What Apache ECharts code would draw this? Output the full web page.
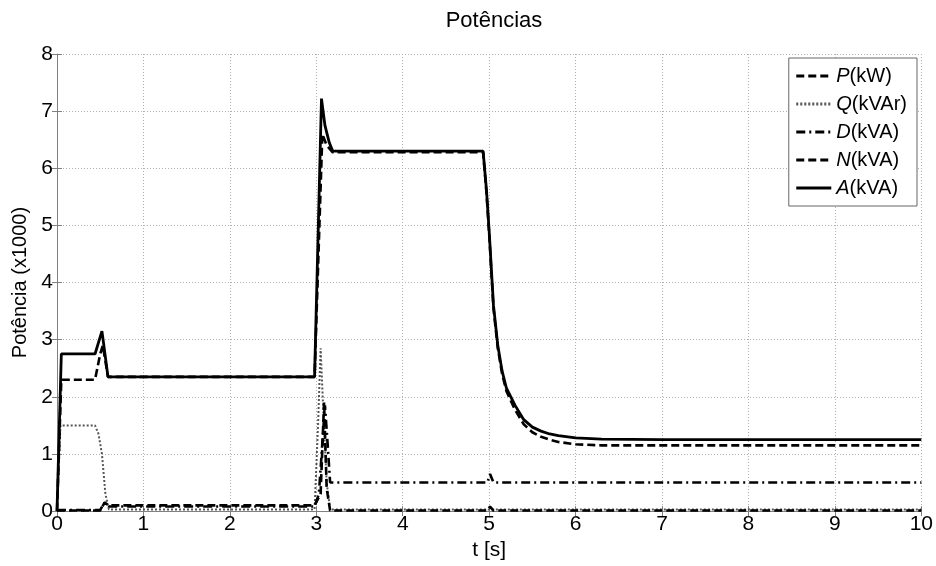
<!DOCTYPE html>
<html><head><meta charset="utf-8">
<script src="https://cdn.jsdelivr.net/npm/echarts@6/dist/echarts.min.js"></script>
<style>html,body{margin:0;padding:0;background:#fff}#c{width:936px;height:566px}</style>
</head><body><div id="c"></div>
<script>
var seriesNames = ['P(kW)', 'Q(kVAr)', 'D(kVA)', 'N(kVA)', 'A(kVA)'];
var xTicks = [0,1,2,3,4,5,6,7,8,9,10];
var yTicks = [0,1,2,3,4,5,6,7,8];

var tP = [0, 0.05, 0.44, 0.5, 0.53, 0.59, 2.98, 3.07, 3.12, 3.19, 4.93, 4.97, 5.0, 5.05, 5.1, 5.15, 5.2, 5.3, 5.4, 5.5, 5.6, 5.7, 5.8, 6.0, 6.3, 7.0, 10];
var vP = [0, 2.3, 2.3, 2.75, 2.9, 2.35, 2.35, 6.6, 6.4, 6.28, 6.28, 5.55, 4.85, 3.55, 2.85, 2.4, 2.1, 1.77, 1.52, 1.38, 1.3, 1.25, 1.21, 1.17, 1.15, 1.15, 1.15];

var tQ = [0, 0.04, 0.44, 0.48, 0.52, 0.56, 0.6, 2.98, 3.02, 3.05, 3.08, 3.12, 3.16, 10];
var vQ = [0, 1.5, 1.5, 1.35, 1.0, 0.3, 0.03, 0.03, 1.5, 2.85, 1.8, 0.5, 0.03, 0.03];

var tD = [0, 0.5, 0.55, 0.6, 2.98, 3.03, 3.1, 3.13, 3.16, 4.98, 5.01, 5.05, 10];
var vD = [0.02, 0.02, 0.15, 0.08, 0.08, 0.3, 1.85, 1.2, 0.5, 0.5, 0.65, 0.5, 0.5];

var tN = [0, 0.5, 0.55, 0.6, 2.98, 3.05, 3.09, 3.12, 3.16, 4.98, 5.01, 5.05, 10];
var vN = [0.01, 0.01, 0.15, 0.1, 0.1, 0.3, 1.9, 0.4, 0.01, 0.01, 0.08, 0.01, 0.01];

var tA = [0, 0.05, 0.44, 0.52, 0.59, 2.98, 3.06, 3.1, 3.15, 3.19, 4.93, 4.97, 5.0, 5.05, 5.1, 5.15, 5.2, 5.3, 5.4, 5.5, 5.6, 5.7, 5.8, 6.0, 6.3, 7.0, 10];
var vA = [0, 2.75, 2.75, 3.15, 2.35, 2.35, 7.22, 6.75, 6.45, 6.3, 6.3, 5.6, 4.9, 3.6, 2.9, 2.45, 2.15, 1.85, 1.6, 1.47, 1.4, 1.35, 1.32, 1.28, 1.26, 1.25, 1.25];

function zip(t, v) { return t.map(function (x, i) { return [x, v[i]]; }); }

var FONT = '"Liberation Sans", Arial, sans-serif';
var chart = echarts.init(document.getElementById('c'), null, {renderer: 'canvas'});

function mk(name, data, type, width, color, z) {
  return {
    name: name, type: 'line', data: data, showSymbol: false, symbol: 'none',
    animation: false, z: z,
    lineStyle: {color: color, width: width, type: type},
    itemStyle: {color: color}
  };
}

var option = {
  backgroundColor: '#fff',
  animation: false,
  title: {
    text: 'Potências', left: 489, top: 5, textAlign: 'center',
    textStyle: {fontFamily: FONT, fontSize: 22, fontWeight: 'normal', color: '#000'}
  },
  grid: {left: 57, right: 14, top: 54, bottom: 53},
  legend: {
    orient: 'vertical', right: 19, top: 58,
    itemWidth: 35, itemHeight: 14, itemGap: 8,
    padding: [8, 10, 8, 6],
    borderColor: '#666', borderWidth: 1, backgroundColor: '#fff',
    itemStyle: {opacity: 0},
    lineStyle: {width: 3},
    data: seriesNames,
    formatter: function (n) { return '{i|' + n.charAt(0) + '}{n|' + n.slice(1) + '}'; },
    textStyle: {
      fontFamily: FONT, fontSize: 20, color: '#000',
      rich: {
        i: {fontFamily: FONT, fontSize: 20, fontStyle: 'italic', color: '#000'},
        n: {fontFamily: FONT, fontSize: 20, color: '#000'}
      }
    }
  },
  xAxis: [{
    type: 'value', min: 0, max: 10, interval: 1,
    name: 't [s]', nameLocation: 'middle', nameGap: 26,
    nameTextStyle: {fontFamily: FONT, fontSize: 21, color: '#000'},
    axisLine: {show: true, onZero: false, lineStyle: {color: '#808080', width: 1}},
    axisTick: {show: true, inside: true, length: 5, lineStyle: {color: '#808080'}},
    axisLabel: {fontFamily: FONT, fontSize: 21, color: '#000', margin: 3},
    splitLine: {show: true, lineStyle: {color: '#b0b0b0', type: [1, 2], width: 1}}
  }, {
    type: 'value', min: 0, max: 10, interval: 1, position: 'top',
    axisLine: {show: false}, axisLabel: {show: false}, splitLine: {show: false},
    axisTick: {show: true, inside: true, length: 5, lineStyle: {color: '#808080'}}
  }],
  yAxis: [{
    type: 'value', min: 0, max: 8, interval: 1,
    name: 'Potência (x1000)', nameLocation: 'middle', nameGap: 25,
    nameTextStyle: {fontFamily: FONT, fontSize: 20, color: '#000'},
    axisLine: {show: true, onZero: false, lineStyle: {color: '#808080', width: 1}},
    axisTick: {show: true, inside: true, length: 5, lineStyle: {color: '#808080'}},
    axisLabel: {fontFamily: FONT, fontSize: 21, color: '#000', margin: 4},
    splitLine: {show: true, lineStyle: {color: '#b0b0b0', type: [1, 2], width: 1}}
  }, {
    type: 'value', min: 0, max: 8, interval: 1, position: 'right',
    axisLine: {show: false}, axisLabel: {show: false}, splitLine: {show: false},
    axisTick: {show: true, inside: true, length: 5, lineStyle: {color: '#808080'}}
  }],
  series: [
    mk(seriesNames[0], zip(tP, vP), [8, 4], 2.6, '#000', 4),
    mk(seriesNames[1], zip(tQ, vQ), [2, 2], 2, '#555', 2),
    mk(seriesNames[2], zip(tD, vD), [9, 4, 2, 4], 2.6, '#000', 3),
    mk(seriesNames[3], zip(tN, vN), [8, 4], 2.6, '#000', 3),
    mk(seriesNames[4], zip(tA, vA), 'solid', 2.8, '#000', 5)
  ]
};
chart.setOption(option);
</script></body></html>
